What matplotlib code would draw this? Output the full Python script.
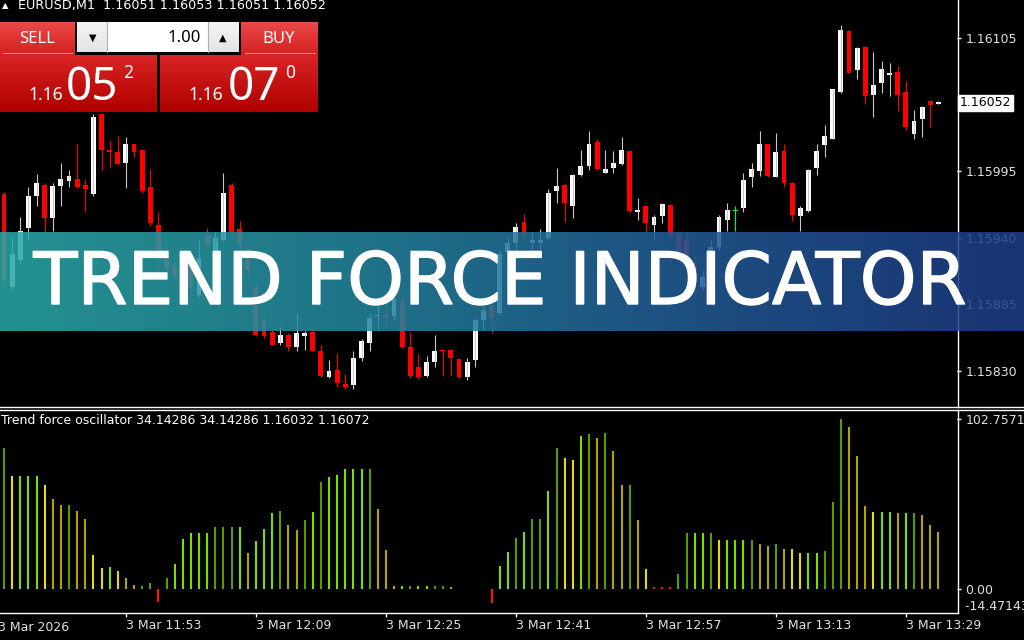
import numpy as np
import matplotlib
matplotlib.use("Agg")
import matplotlib.pyplot as plt
import matplotlib.patheffects as pe
from matplotlib.lines import Line2D
from matplotlib.colors import LinearSegmentedColormap

plt.rcParams["font.family"] = "DejaVu Sans"

# ---- data ----
symbol_line = "EURUSD,M1  1.16051 1.16053 1.16051 1.16052"
osc_title = "Trend force oscillator 34.14286 34.14286 1.16032 1.16072"
banner_title = "TREND FORCE INDICATOR"

opens = [1.15976, 1.15899, 1.15922, 1.15948, 1.15975, 1.15984, 1.15956, 1.15983, 1.15987, 1.15989,
         1.15984, 1.15976, 1.16042, 1.16013, 1.16011, 1.16002, 1.16018, 1.16013, 1.15982, 1.15951,
         1.15928, 1.15917, 1.15908, 1.15918, 1.15893, 1.15942, 1.15924, 1.15938, 1.15984, 1.15947,
         1.15930, 1.15899, 1.15872, 1.15862, 1.15853, 1.15860, 1.15850, 1.15859, 1.15862, 1.15846,
         1.15825, 1.15831, 1.15819, 1.15818, 1.15841, 1.15853, 1.15875, 1.15877, 1.15875, 1.15887,
         1.15850, 1.15833, 1.15826, 1.15837, 1.15847, 1.15847, 1.15840, 1.15825, 1.15839, 1.15872,
         1.15884, 1.15878, 1.15928, 1.15936, 1.15953, 1.15936, 1.15936, 1.15940, 1.15979, 1.15984,
         1.15966, 1.15992, 1.15999, 1.16019, 1.15994, 1.15998, 1.16001, 1.16012, 1.15961, 1.15966,
         1.15951, 1.15958, 1.15967, 1.15944, 1.15938, 1.15920, 1.15899, 1.15926, 1.15932, 1.15955,
         1.15962, 1.15965, 1.15990, 1.15995, 1.16018, 1.15990, 1.16012, 1.15985, 1.15958, 1.15962,
         1.15998, 1.16017, 1.16022, 1.16061, 1.16111, 1.16079, 1.16098, 1.16058, 1.16068, 1.16075,
         1.16077, 1.16061, 1.16026, 1.16038, 1.16053, 1.16051]
highs = [1.15978, 1.15941, 1.15957, 1.15982, 1.15993, 1.15985, 1.15985, 1.16002, 1.15996, 1.16018,
         1.15989, 1.16042, 1.16043, 1.16021, 1.16024, 1.16023, 1.16018, 1.16013, 1.15997, 1.15961,
         1.15934, 1.15920, 1.15920, 1.15930, 1.15938, 1.15948, 1.15945, 1.15994, 1.15985, 1.15954,
         1.15934, 1.15903, 1.15876, 1.15864, 1.15866, 1.15861, 1.15878, 1.15863, 1.15865, 1.15851,
         1.15839, 1.15845, 1.15827, 1.15846, 1.15856, 1.15878, 1.15884, 1.15889, 1.15893, 1.15890,
         1.15862, 1.15844, 1.15842, 1.15860, 1.15847, 1.15848, 1.15841, 1.15841, 1.15874, 1.15886,
         1.15890, 1.15930, 1.15941, 1.15952, 1.15960, 1.15945, 1.15947, 1.15980, 1.15998, 1.15985,
         1.15993, 1.16013, 1.16028, 1.16022, 1.16013, 1.16012, 1.16023, 1.16013, 1.15973, 1.15967,
         1.15959, 1.15969, 1.15968, 1.15946, 1.15945, 1.15926, 1.15913, 1.15938, 1.15959, 1.15969,
         1.15966, 1.15994, 1.16002, 1.16028, 1.16018, 1.16027, 1.16018, 1.15986, 1.15966, 1.15997,
         1.16018, 1.16033, 1.16063, 1.16116, 1.16112, 1.16098, 1.16099, 1.16094, 1.16086, 1.16085,
         1.16082, 1.16070, 1.16046, 1.16049, 1.16054, 1.16053]
lows = [1.15901, 1.15897, 1.15918, 1.15938, 1.15966, 1.15945, 1.15946, 1.15966, 1.15982, 1.15981,
        1.15961, 1.15975, 1.15996, 1.15998, 1.16000, 1.15981, 1.16007, 1.15977, 1.15950, 1.15913,
        1.15912, 1.15905, 1.15901, 1.15895, 1.15891, 1.15930, 1.15922, 1.15937, 1.15943, 1.15930,
        1.15909, 1.15859, 1.15857, 1.15851, 1.15851, 1.15846, 1.15846, 1.15847, 1.15846, 1.15825,
        1.15824, 1.15817, 1.15815, 1.15815, 1.15838, 1.15846, 1.15864, 1.15868, 1.15872, 1.15849,
        1.15824, 1.15823, 1.15825, 1.15833, 1.15826, 1.15826, 1.15824, 1.15822, 1.15833, 1.15864,
        1.15861, 1.15876, 1.15920, 1.15930, 1.15938, 1.15928, 1.15928, 1.15938, 1.15969, 1.15953,
        1.15956, 1.15991, 1.15996, 1.15996, 1.15994, 1.15994, 1.16000, 1.15961, 1.15955, 1.15945,
        1.15938, 1.15952, 1.15938, 1.15923, 1.15905, 1.15903, 1.15897, 1.15916, 1.15930, 1.15946,
        1.15946, 1.15961, 1.15982, 1.15991, 1.15990, 1.15990, 1.15982, 1.15954, 1.15946, 1.15961,
        1.15992, 1.16007, 1.16022, 1.16060, 1.16076, 1.16071, 1.16051, 1.16040, 1.16060, 1.16057,
        1.16045, 1.16029, 1.16022, 1.16023, 1.16032, 1.16051]
closes = [1.15905, 1.15927, 1.15946, 1.15975, 1.15985, 1.15956, 1.15983, 1.15989, 1.15991, 1.15982,
          1.15980, 1.16040, 1.16013, 1.16011, 1.16001, 1.16018, 1.16011, 1.15979, 1.15952, 1.15926,
          1.15915, 1.15910, 1.15915, 1.15899, 1.15923, 1.15934, 1.15940, 1.15977, 1.15945, 1.15934,
          1.15913, 1.15860, 1.15859, 1.15851, 1.15860, 1.15850, 1.15861, 1.15861, 1.15846, 1.15826,
          1.15830, 1.15820, 1.15817, 1.15841, 1.15855, 1.15874, 1.15876, 1.15874, 1.15889, 1.15850,
          1.15826, 1.15825, 1.15837, 1.15846, 1.15846, 1.15841, 1.15825, 1.15837, 1.15872, 1.15880,
          1.15874, 1.15927, 1.15936, 1.15949, 1.15942, 1.15938, 1.15938, 1.15977, 1.15983, 1.15969,
          1.15992, 1.15999, 1.16018, 1.15997, 1.15997, 1.16002, 1.16013, 1.15962, 1.15963, 1.15952,
          1.15957, 1.15968, 1.15942, 1.15926, 1.15923, 1.15912, 1.15908, 1.15932, 1.15957, 1.15963,
          1.15962, 1.15988, 1.15997, 1.16018, 1.15991, 1.16011, 1.15985, 1.15959, 1.15965, 1.15996,
          1.16012, 1.16024, 1.16063, 1.16112, 1.16076, 1.16097, 1.16057, 1.16066, 1.16080, 1.16076,
          1.16058, 1.16032, 1.16037, 1.16048, 1.16050, 1.16052]

osc_values = [85.5, 68.6, 68.6, 68.6, 68.6, 63.1, 54.3, 50.9, 50.9, 47.2,
              42.1, 20.3, 12.8, 13.4, 10.6, 6.7, 2.4, 1.4, 3.7, -8.1,
              6.7, 14.9, 30.3, 33.6, 33.6, 33.6, 37.2, 37.2, 37.2, 37.2,
              21.8, 29.1, 36.0, 45.8, 47.2, 38.7, 35.4, 41.5, 46.4, 64.9,
              67.6, 69.2, 72.9, 72.9, 72.9, 72.9, 48.2, 23.4, 1.8, 1.8,
              1.8, 1.8, 1.8, 1.8, 1.8, 1.2, 0.0, 0.0, 0.0, 0.0,
              -8.5, 13.6, 22.4, 30.9, 34.6, 42.1, 42.1, 59.4, 85.5, 79.4,
              78.0, 92.8, 93.6, 91.2, 94.6, 83.4, 63.1, 63.1, 41.5, 11.8,
              0.8, 0.8, 0.8, 9.2, 34.0, 34.0, 34.0, 34.0, 29.5, 29.5,
              29.5, 29.5, 29.5, 27.1, 25.8, 27.1, 24.0, 24.0, 21.6, 21.6,
              21.6, 22.8, 52.7, 102.76, 98.3, 80.4, 50.3, 46.4, 46.4, 46.4,
              45.8, 45.8, 45.8, 44.6, 38.5, 34.14]
# G bright green, D dark green, Y yellow, O olive, R red, N none
osc_codes = ("DYGGGYOODOOYYGYOODDRDGGGGGDDDGOGGGDOODGDGG"
             "GGGDOOOGDGGDDONNNNRGGDGDDGDYYGDODOODOYRRRD"
             "DGGDYGGGDOODOYYGGDDDOOOYGGOGDOOO")

price_ticks = [1.16105, 1.15995, 1.15940, 1.15885, 1.15830]
last_price = "1.16052"
time_tick_bars = [15, 31, 47, 63, 79, 95, 111]
time_tick_labels = ["3 Mar 11:53", "3 Mar 12:09", "3 Mar 12:25", "3 Mar 12:41",
                    "3 Mar 12:57", "3 Mar 13:13", "3 Mar 13:29"]
first_date_label = "3 Mar 2026"
osc_max_label, osc_zero_label, osc_min_label = "102.75714", "0.00", "-14.47143"
osc_min = -14.47143

W, H = 1024, 640
BAR_PX = 8.125
fig = plt.figure(figsize=(W / 100, H / 100), dpi=100, facecolor="black")


def px_axes(x0, y0, x1, y1, z=1):
    a = fig.add_axes([x0 / W, 1 - y1 / H, (x1 - x0) / W, (y1 - y0) / H], zorder=z)
    return a


def fline(xs, ys, color="white", lw=1.0, z=2):
    fig.add_artist(Line2D([x / W for x in xs], [1 - y / H for y in ys],
                          transform=fig.transFigure, color=color, lw=lw, zorder=z))


xlim = (-4 / BAR_PX, (957 - 4) / BAR_PX)
n = len(opens)
idx = np.arange(n)
o, h, l, c = map(np.array, (opens, highs, lows, closes))

# ---- price pane ----
ax = px_axes(0, 0, 957, 406.5)
ax.set_facecolor("black")
body_col = np.where(c > o, "white", np.where(c < o, "#ff0000", "#00ff00"))
wick_col = np.where(c > o, "#c8c8c8", np.where(c < o, "#ff0000", "#00ff00"))
ax.vlines(idx, l, h, colors=wick_col, linewidth=0.8)
bott = np.minimum(o, c)
hgt = np.maximum(np.abs(c - o), 0.000012)
ax.bar(idx, hgt, bottom=bott, width=0.6, color=body_col, linewidth=0)
ax.set_xlim(*xlim)
ax.set_ylim(1.161367 - 406.5 * 8.271e-6, 1.161367)
ax.yaxis.tick_right()
ax.set_yticks(price_ticks)
ax.set_yticklabels([f"{p:.5f}" for p in price_ticks])
ax.tick_params(axis="y", colors="white", labelcolor="#e0e0e0", length=3, width=1,
               pad=3, labelsize=9)
ax.set_xticks([])
for s in ax.spines.values():
    s.set_visible(False)

# current price marker
fig.text(960 / W, 1 - 103 / H, last_price, color="black", fontsize=9, va="center",
         ha="left", zorder=4,
         bbox=dict(boxstyle="square,pad=0.15", facecolor="white", edgecolor="white"))

# ---- oscillator pane ----
ax2 = px_axes(0, 409.5, 957, 612.5)
ax2.set_facecolor("black")
cmap = {"G": "#76e000", "D": "#5a9c00", "Y": "#e2dc10", "O": "#b0a400",
        "R": "#ff1010", "N": "#000000"}
ax2.vlines(idx, 0, osc_values, colors=[cmap[k] for k in osc_codes], linewidth=1.5)
ax2.set_xlim(*xlim)
ax2.set_ylim(osc_min, (588.5 - 409.5) / 1.646)
ax2.yaxis.tick_right()
ax2.set_yticks([102.75714, 0.0])
ax2.set_yticklabels([osc_max_label, osc_zero_label])
ax2.tick_params(axis="y", colors="white", labelcolor="#e0e0e0", length=3, width=1,
                pad=3, labelsize=9)
ax2.text(1.0, osc_min, "  " + osc_min_label, transform=ax2.get_yaxis_transform(),
         color="#e0e0e0", fontsize=9, va="bottom", ha="left", clip_on=False)
ax2.set_xticks(time_tick_bars)
ax2.set_xticklabels(time_tick_labels)
ax2.tick_params(axis="x", colors="white", labelcolor="#e0e0e0", length=3, width=1,
                pad=1.5, labelsize=9)
for lab in ax2.get_xticklabels():
    lab.set_horizontalalignment("left")
ax2.text(-0.75, -0.04, first_date_label, transform=ax2.get_xaxis_transform(),
         color="#e0e0e0", fontsize=9, va="top", ha="left", clip_on=False)
for s in ax2.spines.values():
    s.set_visible(False)

# pane borders
fline([957.5, 957.5], [0, 406.5])
fline([0, W], [406.5, 406.5])
fline([0, W], [409.5, 409.5])
fline([957.5, 957.5], [409.5, 612.5])
fline([0, 957.5], [612.5, 612.5])

# headers
fig.text(2 / W, 1 - 6 / H, "\u25b2", color="white", fontsize=6, va="center", zorder=4)
fig.text(18 / W, 1 - 6 / H, symbol_line, color="white", fontsize=9.2, va="center", zorder=4)
fig.text(1 / W, 1 - 421 / H, osc_title, color="white", fontsize=9, va="center", zorder=4)


# ---- one-click trading panel ----
def grad_box(x0, y0, x1, y1, top, bottom, z=3):
    a = px_axes(x0, y0, x1, y1, z)
    cm = LinearSegmentedColormap.from_list("g", [top, bottom])
    a.imshow(np.linspace(0, 1, 64).reshape(-1, 1), cmap=cm, aspect="auto",
             extent=(0, 1, 0, 1))
    a.set_axis_off()
    return a


grad_box(0, 22, 75, 55, "#ea4a48", "#d42020")
grad_box(241, 22, 318, 55, "#ea4a48", "#d42020")
grad_box(0, 55, 157, 112, "#d82424", "#b00000")
grad_box(160, 55, 318, 112, "#d82424", "#b00000")
fline([3, 72], [52.5, 52.5], color="#f08a8a", lw=0.8, z=4)
fline([245, 315], [52.5, 52.5], color="#f08a8a", lw=0.8, z=4)
grad_box(77, 22, 107, 52, "#f4f4f4", "#e4e4e4")
grad_box(107, 22, 208, 52, "#ffffff", "#ffffff")
grad_box(208, 22, 239, 52, "#f4f4f4", "#e4e4e4")
fline([107, 107], [22, 52], color="#b0b0b0", lw=0.8, z=4)
fline([208, 208], [22, 52], color="#b0b0b0", lw=0.8, z=4)

pf = "Noto Sans"
fig.text(37 / W, 1 - 39 / H, "SELL", color="white", fontsize=12, family=pf,
         ha="center", va="center", zorder=4)
fig.text(279 / W, 1 - 39 / H, "BUY", color="white", fontsize=12, family=pf,
         ha="center", va="center", zorder=4)
fig.text(201 / W, 1 - 38 / H, "1.00", color="black", fontsize=12, family=pf,
         ha="right", va="center", zorder=4)
fig.text(93 / W, 1 - 38 / H, "\u25bc", color="black", fontsize=7,
         ha="center", va="center", zorder=4)
fig.text(223 / W, 1 - 38 / H, "\u25b2", color="black", fontsize=7,
         ha="center", va="center", zorder=4)
for x_small, x_big, x_sup, big, sup in [(28, 66, 123, "05", "2"), (188, 228, 285, "07", "0")]:
    fig.text(x_small / W, 1 - 100 / H, "1.16", color="white", fontsize=12.5, family=pf,
             fontweight="bold", ha="left", va="baseline", zorder=4)
    fig.text(x_big / W, 1 - 100 / H, big, color="white", fontsize=33, family=pf,
             ha="left", va="baseline", zorder=4)
    fig.text(x_sup / W, 1 - 78 / H, sup, color="white", fontsize=12.5, family=pf,
             fontweight="bold", ha="left", va="baseline", zorder=4)

# ---- title banner ----
bax = px_axes(0, 232, W, 331, z=5)
bcm = LinearSegmentedColormap.from_list(
    "banner", [(0.0, "#2aaaa9"), (0.35, "#2588a0"), (0.65, "#225f98"), (1.0, "#1f3c86")])
bax.imshow(np.linspace(0, 1, 256).reshape(1, -1), cmap=bcm, aspect="auto",
           extent=(0, 1, 0, 1), alpha=0.86)
bax.set_axis_off()
t = fig.text(500 / W, 1 - 304 / H, banner_title, color="white", fontsize=48,
             fontweight="medium", ha="center", va="baseline", zorder=6,
             path_effects=[pe.withStroke(linewidth=1.0, foreground="white")])
fig.canvas.draw()
tw = t.get_window_extent().width
t.set_fontsize(48 * 932 / tw)

fig.savefig("out.png", dpi=100, facecolor="black")
